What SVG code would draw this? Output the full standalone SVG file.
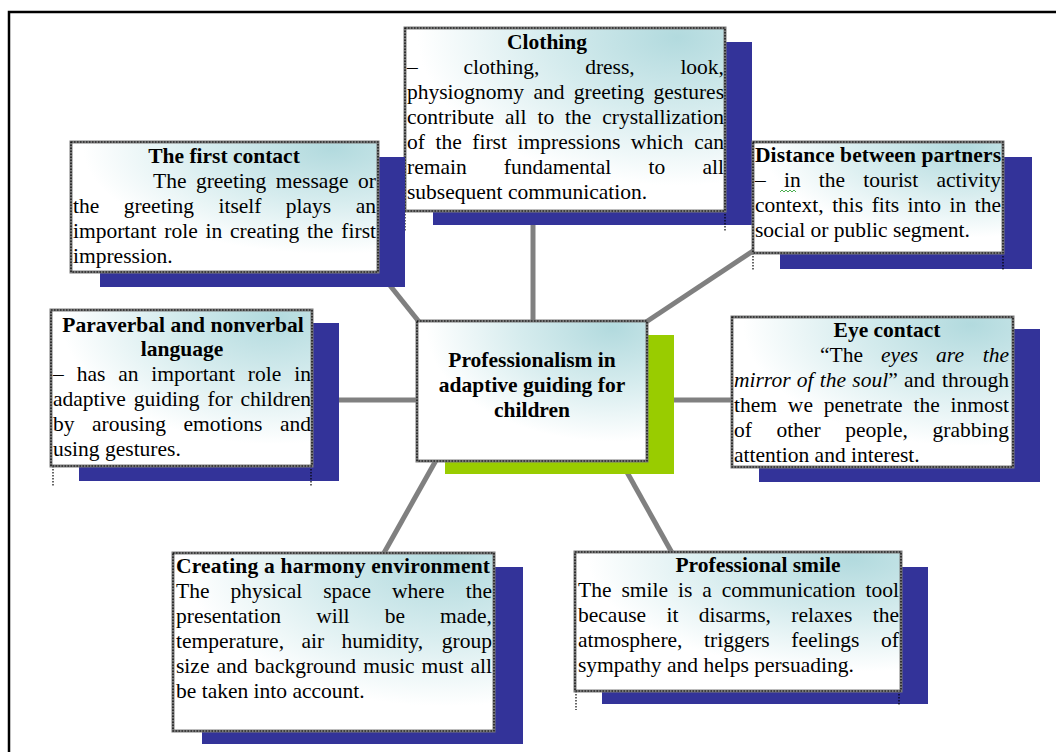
<svg xmlns="http://www.w3.org/2000/svg" width="1056" height="752" viewBox="0 0 1056 752">
<style>
.t{font-family:"Liberation Serif","Times New Roman",serif;font-size:21.5px;fill:#000}
.b{font-weight:bold}
.i{font-style:italic}
.sh{fill:#333399}
.gr{fill:#99cc00}
.box{fill:url(#g);stroke:#7a7a7a;stroke-width:3}
.dots{fill:none;stroke:#000;stroke-width:1.2;stroke-dasharray:1.5 1.5}
.conn{stroke:#808080;stroke-width:5;fill:none}
.frame{stroke:#000;stroke-width:2.5;fill:none}
</style>
<defs>
<radialGradient id="g" cx="0.85" cy="0.05" r="0.9">
<stop offset="0" stop-color="#b2dade"/>
<stop offset="0.45" stop-color="#d6ecee"/>
<stop offset="0.9" stop-color="#ffffff"/>
</radialGradient>
</defs>
<rect width="1056" height="752" fill="#fff"/>
<path class="frame" d="M9,752 V12 H1056"/>

<g id="connectors">
<line class="conn" x1="533" y1="215" x2="533" y2="330"/>
<line class="conn" x1="380" y1="273" x2="424" y2="328"/>
<line class="conn" x1="765" y1="243" x2="640" y2="326"/>
<line class="conn" x1="330" y1="400" x2="425" y2="400"/>
<line class="conn" x1="640" y1="400" x2="740" y2="400"/>
<line class="conn" x1="439" y1="455" x2="380" y2="560"/>
<line class="conn" x1="623" y1="465" x2="676" y2="560"/>
</g>

<g id="clothing">
<rect class="sh" x="433" y="42" width="319" height="183"/>
<path class="dots" d="M405,211 V232 M725,211 V232"/>
<rect class="box" x="405" y="28" width="320" height="183"/>
<rect class="dots" x="405" y="28" width="320" height="183"/>
<text class="t b" x="547" y="49" text-anchor="middle">Clothing</text>
<text class="t" y="74" word-spacing="40.4"><tspan x="407">– clothing, dress,</tspan><tspan x="724" text-anchor="end">look,</tspan></text>
<text class="t" y="99" word-spacing="4"><tspan x="407">physiognomy and greeting</tspan><tspan x="724" text-anchor="end">gestures</tspan></text>
<text class="t" y="124" word-spacing="5.5"><tspan x="407">contribute all to the</tspan><tspan x="724" text-anchor="end">crystallization</tspan></text>
<text class="t" y="149" word-spacing="5.2"><tspan x="407">of the first impressions which</tspan><tspan x="724" text-anchor="end">can</tspan></text>
<text class="t" y="174" word-spacing="31.8"><tspan x="407">remain fundamental to</tspan><tspan x="724" text-anchor="end">all</tspan></text>
<text class="t" x="407" y="199">subsequent communication.</text>
</g>

<g id="first-contact">
<rect class="sh" x="100" y="157" width="305" height="130"/>
<rect class="box" x="71" y="142" width="307" height="130"/>
<rect class="dots" x="71" y="142" width="307" height="130"/>
<text class="t b" x="224" y="163" text-anchor="middle">The first contact</text>
<text class="t" y="188" word-spacing="4.1"><tspan x="153">The greeting message</tspan><tspan x="376" text-anchor="end">or</tspan></text>
<text class="t" y="213" word-spacing="19"><tspan x="73">the greeting itself plays</tspan><tspan x="376" text-anchor="end">an</tspan></text>
<text class="t" y="238" word-spacing="2.4"><tspan x="73">important role in creating the</tspan><tspan x="376" text-anchor="end">first</tspan></text>
<text class="t" x="73" y="263">impression.</text>
</g>

<g id="distance">
<rect class="sh" x="780" y="157" width="252" height="112"/>
<path class="dots" d="M753,253 V270 M1003,253 V270"/>
<rect class="box" x="753" y="142" width="250" height="111"/>
<rect class="dots" x="753" y="142" width="250" height="111"/>
<text class="t b" x="755" y="162" textLength="246" lengthAdjust="spacing">Distance between partners</text>
<text class="t" y="187" word-spacing="12.8"><tspan x="755">– in the tourist</tspan><tspan x="1001" text-anchor="end">activity</tspan></text>
<path d="M780,192 l2,-2 l2,2 l2,-2 l2,2 l2,-2 l2,2 l2,-2 l2,2" fill="none" stroke="#4caf50" stroke-width="1"/>
<text class="t" y="212" word-spacing="3.1"><tspan x="755">context, this fits into in</tspan><tspan x="1001" text-anchor="end">the</tspan></text>
<text class="t" x="755" y="237">social or public segment.</text>
</g>

<g id="paraverbal">
<rect class="sh" x="79" y="323" width="260" height="158"/>
<path class="dots" d="M53,466 V487 M311,466 V487"/>
<rect class="box" x="51" y="310" width="261" height="156"/>
<rect class="dots" x="51" y="310" width="261" height="156"/>
<text class="t b" x="183" y="332" text-anchor="middle">Paraverbal and nonverbal</text>
<text class="t b" x="182" y="356" text-anchor="middle">language</text>
<text class="t" y="381" word-spacing="7.5"><tspan x="53">– has an important role</tspan><tspan x="311" text-anchor="end">in</tspan></text>
<text class="t" y="406" word-spacing="2.6"><tspan x="53">adaptive guiding for</tspan><tspan x="311" text-anchor="end">children</tspan></text>
<text class="t" y="431" word-spacing="12.1"><tspan x="53">by arousing emotions</tspan><tspan x="311" text-anchor="end">and</tspan></text>
<text class="t" x="53" y="456">using gestures.</text>
</g>

<g id="center">
<rect class="gr" x="445" y="335" width="229" height="139"/>
<rect class="box" x="417" y="321" width="230" height="140"/>
<rect class="dots" x="417" y="321" width="230" height="140"/>
<text class="t b" x="532" y="367" text-anchor="middle">Professionalism in</text>
<text class="t b" x="532" y="392" text-anchor="middle">adaptive guiding for</text>
<text class="t b" x="532" y="417" text-anchor="middle">children</text>
</g>

<g id="eye-contact">
<rect class="sh" x="759" y="329" width="281" height="153"/>
<rect class="box" x="732" y="317" width="281" height="150"/>
<rect class="dots" x="732" y="317" width="281" height="150"/>
<text class="t b" x="887" y="337" text-anchor="middle">Eye contact</text>
<text class="t" y="362" word-spacing="12.7"><tspan x="820">“The <tspan class="i">eyes are</tspan></tspan><tspan x="1009" text-anchor="end" class="i">the</tspan></text>
<text class="t" y="387" word-spacing="0.9"><tspan x="734"><tspan class="i">mirror of the soul</tspan>” and</tspan><tspan x="1009" text-anchor="end">through</tspan></text>
<text class="t" y="412" word-spacing="5.5"><tspan x="734">them we penetrate the</tspan><tspan x="1009" text-anchor="end">inmost</tspan></text>
<text class="t" y="437" word-spacing="19.2"><tspan x="734">of other people,</tspan><tspan x="1009" text-anchor="end">grabbing</tspan></text>
<text class="t" x="734" y="462">attention and interest.</text>
</g>

<g id="harmony">
<rect class="sh" x="202" y="567" width="321" height="177"/>
<rect class="box" x="173" y="553" width="321" height="178"/>
<rect class="dots" x="173" y="553" width="321" height="178"/>
<text class="t b" x="176" y="573" textLength="314" lengthAdjust="spacing">Creating a harmony environment</text>
<text class="t" y="598" word-spacing="15.7"><tspan x="176">The physical space where</tspan><tspan x="492" text-anchor="end">the</tspan></text>
<text class="t" y="623" word-spacing="29.7"><tspan x="176">presentation will be</tspan><tspan x="492" text-anchor="end">made,</tspan></text>
<text class="t" y="648" word-spacing="12"><tspan x="176">temperature, air humidity,</tspan><tspan x="492" text-anchor="end">group</tspan></text>
<text class="t" y="673" word-spacing="1.7"><tspan x="176">size and background music must</tspan><tspan x="492" text-anchor="end">all</tspan></text>
<text class="t" x="176" y="698">be taken into account.</text>
</g>

<g id="smile">
<rect class="sh" x="602" y="567" width="326" height="137"/>
<path class="dots" d="M576,691 V710 M899,691 V705"/>
<rect class="box" x="575" y="552" width="326" height="139"/>
<rect class="dots" x="575" y="552" width="326" height="139"/>
<text class="t b" x="758" y="572" text-anchor="middle">Professional smile</text>
<text class="t" y="597" word-spacing="4.6"><tspan x="578">The smile is a communication</tspan><tspan x="899" text-anchor="end">tool</tspan></text>
<text class="t" y="622" word-spacing="15"><tspan x="578">because it disarms, relaxes</tspan><tspan x="899" text-anchor="end">the</tspan></text>
<text class="t" y="647" word-spacing="16.2"><tspan x="578">atmosphere, triggers feelings</tspan><tspan x="899" text-anchor="end">of</tspan></text>
<text class="t" x="578" y="672">sympathy and helps persuading.</text>
</g>
</svg>
